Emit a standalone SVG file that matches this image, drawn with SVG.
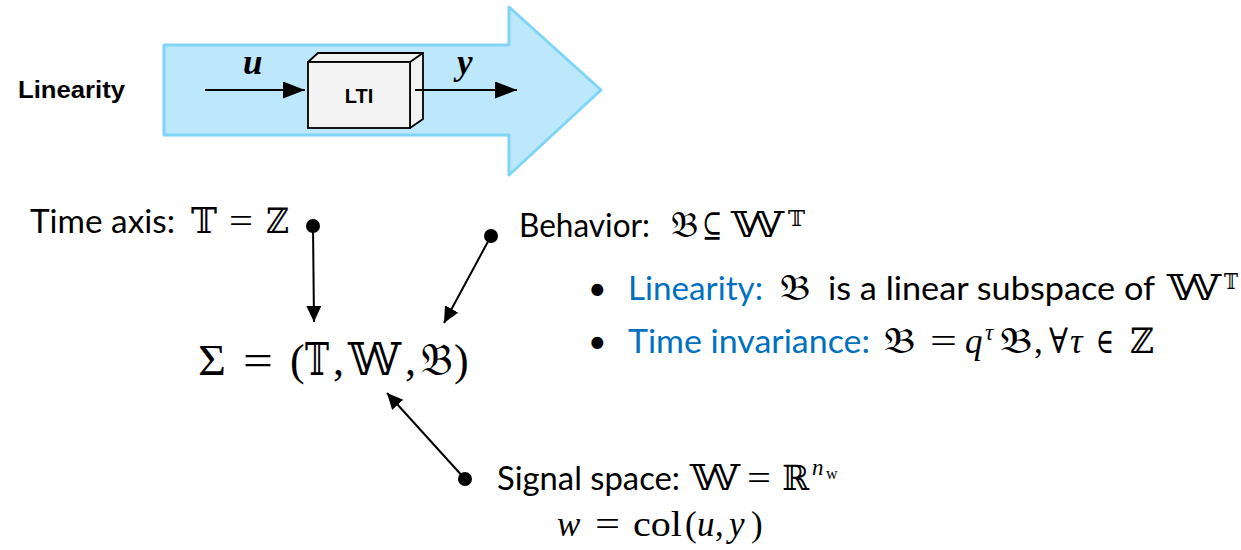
<svg xmlns="http://www.w3.org/2000/svg" width="1241" height="550" viewBox="0 0 1241 550">
<style>
.sans{font-family:Lato,"Open Sans","Noto Sans",sans-serif;font-size:32px;fill:#000}
.blue{fill:#0070C0}
.math{font-family:"Liberation Serif","DejaVu Serif","DejaVu Sans",serif;font-size:35px;fill:#000}
.big{font-size:44px}
.sup{font-size:23px}
.sub{font-size:16px}
.it{font-style:italic}
.arial{font-family:"Liberation Sans",Arial,sans-serif;font-weight:bold;fill:#000}
.conn{stroke:#000;stroke-width:2;fill:none}
.dot{fill:#000}
</style>
<defs>
<marker id="headL" markerUnits="userSpaceOnUse" markerWidth="24" markerHeight="18" refX="22" refY="8.5" orient="auto">
<path d="M0,0 L22,8.5 L0,17 z" fill="#000"/>
</marker>
<marker id="headS" markerUnits="userSpaceOnUse" markerWidth="18" markerHeight="16" refX="16" refY="7.5" orient="auto">
<path d="M0,0 L16,7.5 L0,15 z" fill="#000"/>
</marker>
</defs>

<g id="big-arrow">
<path d="M164,45 L509,45 L509,7 L601,90 L509,175 L509,135 L164,135 z" fill="#BDE8FB" stroke="#80D4F6" stroke-width="3" stroke-linejoin="round"/>
</g>

<g id="label-linearity">
<text class="arial" x="18" y="98" font-size="24" textLength="107" lengthAdjust="spacingAndGlyphs">Linearity</text>
</g>

<g id="lti-box">
<path d="M308,62 L318,53 L423,53 L413,62 z" fill="#F2F2F2" stroke="#000" stroke-width="1.8" stroke-linejoin="round"/>
<path d="M410,62 L423,53 L423,119 L410,128 z" fill="#F2F2F2" stroke="#000" stroke-width="1.8" stroke-linejoin="round"/>
<rect x="308" y="62" width="102" height="66" fill="#F4F4F4" stroke="#000" stroke-width="1.8"/>
<text class="arial" x="359" y="103" font-size="20" text-anchor="middle">LTI</text>
</g>

<g id="signal-labels">
<text class="math it" x="243" y="74" font-weight="bold">u</text>
<text class="math it" x="457" y="74" font-weight="bold">y</text>
</g>

<g id="time-axis">
<text class="sans" x="30" y="233" textLength="145" lengthAdjust="spacingAndGlyphs">Time axis:</text>
<text class="math" x="191" y="233" textLength="26" lengthAdjust="spacingAndGlyphs">𝕋</text>
<text class="math" x="229" y="233" textLength="24" lengthAdjust="spacingAndGlyphs">=</text>
<text class="math" x="266" y="233" textLength="23" lengthAdjust="spacingAndGlyphs">ℤ</text>
</g>

<g id="behavior">
<text class="sans" x="519" y="237" textLength="131" lengthAdjust="spacingAndGlyphs">Behavior:</text>
<text class="math" x="671" y="237" textLength="27" lengthAdjust="spacingAndGlyphs">𝔅</text>
<text class="math" x="702" y="237" textLength="20" lengthAdjust="spacingAndGlyphs">⊆</text>
<text class="math" x="731" y="237" textLength="53" lengthAdjust="spacingAndGlyphs">𝕎</text>
<text class="math sup" x="788" y="226" textLength="17" lengthAdjust="spacingAndGlyphs">𝕋</text>
</g>

<g id="bullet-linearity">
<text class="sans" x="588" y="300">•</text>
<text class="sans blue" x="628" y="300" textLength="135" lengthAdjust="spacingAndGlyphs">Linearity:</text>
<text class="math" x="780" y="300" textLength="30" lengthAdjust="spacingAndGlyphs">𝔅</text>
<text class="sans" x="828" y="300" textLength="327" lengthAdjust="spacingAndGlyphs">is a linear subspace of</text>
<text class="math" x="1167" y="300" textLength="54" lengthAdjust="spacingAndGlyphs">𝕎</text>
<text class="math sup" x="1224" y="289" textLength="14" lengthAdjust="spacingAndGlyphs">𝕋</text>
</g>

<g id="bullet-time-invariance">
<text class="sans" x="588" y="353">•</text>
<text class="sans blue" x="628" y="353" textLength="242" lengthAdjust="spacingAndGlyphs">Time invariance:</text>
<text class="math" x="884" y="353" textLength="31" lengthAdjust="spacingAndGlyphs">𝔅</text>
<text class="math" x="930" y="353" textLength="27" lengthAdjust="spacingAndGlyphs">=</text>
<text class="math it" x="965" y="353">q</text>
<text class="math sup it" x="985" y="340">τ</text>
<text class="math" x="1000" y="353" textLength="32" lengthAdjust="spacingAndGlyphs">𝔅</text>
<text class="math" x="1034" y="353">,</text>
<text class="math" x="1049" y="353" textLength="19" lengthAdjust="spacingAndGlyphs">∀</text>
<text class="math it" x="1070" y="353">τ</text>
<text class="math" x="1096" y="353" textLength="18" lengthAdjust="spacingAndGlyphs">∈</text>
<text class="math" x="1130" y="353" textLength="24" lengthAdjust="spacingAndGlyphs">ℤ</text>
</g>

<g id="system">
<text class="math big" x="198" y="375" textLength="28" lengthAdjust="spacingAndGlyphs">Σ</text>
<text class="math big" x="243" y="375" textLength="30" lengthAdjust="spacingAndGlyphs">=</text>
<text class="math big" x="290" y="375">(</text>
<text class="math big" x="305" y="375" textLength="24" lengthAdjust="spacingAndGlyphs">𝕋</text>
<text class="math big" x="333" y="375">,</text>
<text class="math big" x="348" y="375" textLength="53" lengthAdjust="spacingAndGlyphs">𝕎</text>
<text class="math big" x="405" y="375">,</text>
<text class="math big" x="421" y="375" textLength="32" lengthAdjust="spacingAndGlyphs">𝔅</text>
<text class="math big" x="454" y="375">)</text>
</g>

<g id="signal-space">
<text class="sans" x="497" y="490" textLength="183" lengthAdjust="spacingAndGlyphs">Signal space:</text>
<text class="math" x="690" y="490" textLength="50" lengthAdjust="spacingAndGlyphs">𝕎</text>
<text class="math" x="747" y="490" textLength="24" lengthAdjust="spacingAndGlyphs">=</text>
<text class="math" x="782" y="490" textLength="27" lengthAdjust="spacingAndGlyphs">ℝ</text>
<text class="math sup it" x="812" y="475">n</text>
<text class="math sub" x="826" y="479">w</text>
<text class="math it" x="557" y="536">w</text>
<text class="math" x="595" y="536" textLength="25" lengthAdjust="spacingAndGlyphs">=</text>
<text class="math" x="633" y="536" textLength="49" lengthAdjust="spacingAndGlyphs">col</text>
<text class="math" x="685" y="536">(</text>
<text class="math it" x="697" y="536">u</text>
<text class="math" x="715" y="536">,</text>
<text class="math it" x="729" y="536">y</text>
<text class="math" x="751" y="536">)</text>
</g>

<g id="connectors">
<line class="conn" x1="205" y1="90" x2="305" y2="90" marker-end="url(#headL)"/>
<line class="conn" x1="415" y1="90" x2="517" y2="90" marker-end="url(#headL)"/>
<circle class="dot" cx="313" cy="226" r="7"/>
<line class="conn" x1="313" y1="226" x2="314" y2="322" marker-end="url(#headS)"/>
<circle class="dot" cx="491" cy="236" r="7"/>
<line class="conn" x1="491" y1="236" x2="444" y2="323" marker-end="url(#headS)"/>
<circle class="dot" cx="465" cy="479" r="7"/>
<line class="conn" x1="465" y1="479" x2="387" y2="393" marker-end="url(#headS)"/>
</g>
</svg>
